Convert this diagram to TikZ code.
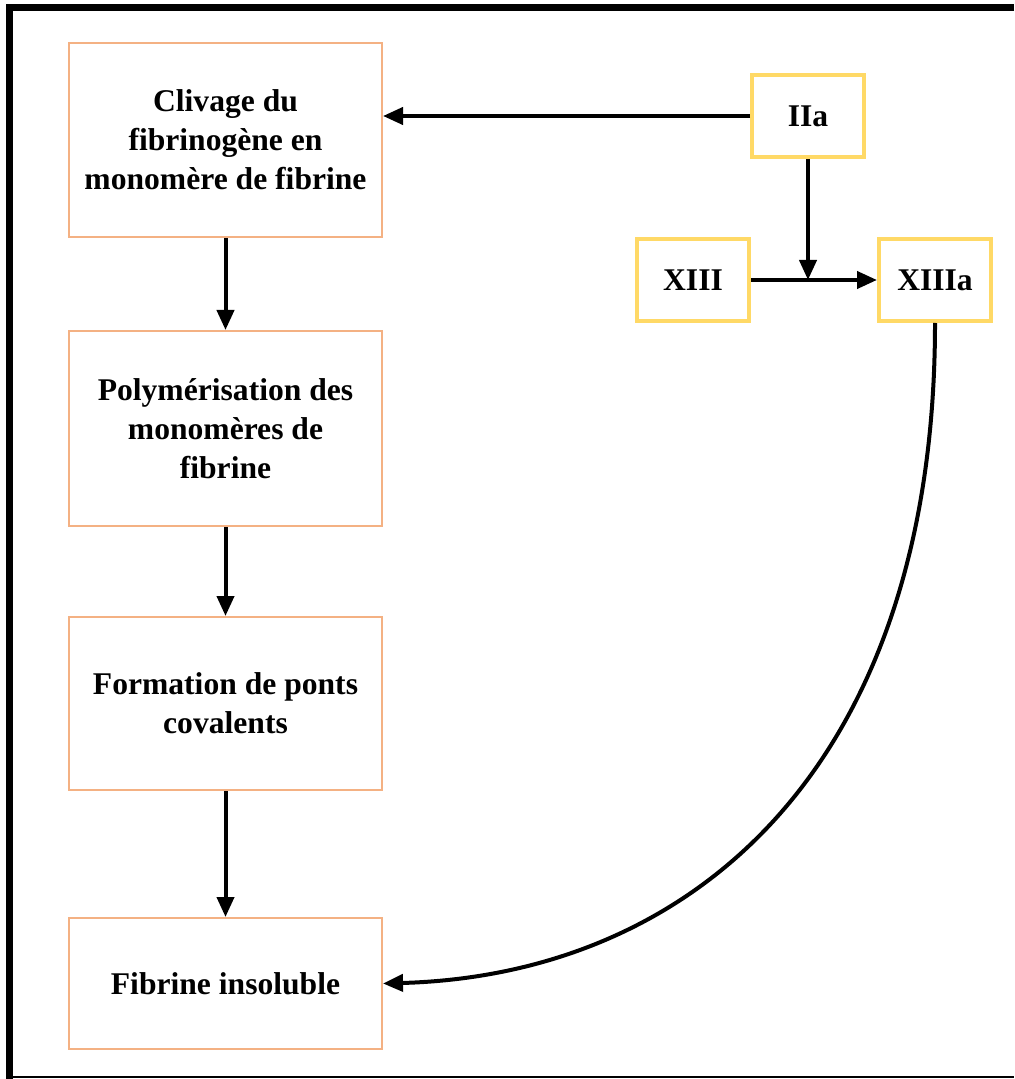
\documentclass[tikz,border=0pt]{standalone}
\usepackage{fontspec}
\setmainfont{Liberation Serif}
\usetikzlibrary{arrows.meta,positioning}
\definecolor{boxorange}{RGB}{244,177,131}
\definecolor{boxyellow}{RGB}{255,217,102}
\tikzset{
    stepbox/.style={draw=boxorange, line width=1pt, minimum width=156.5pt,
        align=center, font=\bfseries\fontsize{15.8}{19.5}\selectfont},
    factor/.style={draw=boxyellow, line width=2pt, minimum width=56pt,
        minimum height=41pt, font=\bfseries\fontsize{15.8}{19.5}\selectfont},
    flow/.style={-{Triangle[length=10pt,width=8.5pt]}, line width=2pt}
}
\begin{document}
\begin{tikzpicture}[x=0.5pt,y=-0.5pt]
    \useasboundingbox (0,0) rectangle (1014,1079);
    % frame
    \draw[line width=3.5pt] (1014,7.5) -| (9,1079);
    \draw[line width=0.8pt] (9,1077) -- (1014,1077);

    \node[stepbox, minimum height=97pt] (cliv) at (225.5,140) {Clivage du\\fibrinogène en\\monomère de fibrine};
    \node[stepbox, minimum height=97.5pt] (poly) at (225.5,428.5) {Polymérisation des\\monomères de\\fibrine};
    \node[stepbox, minimum height=86.5pt] (pont) at (225.5,703.5) {Formation de ponts\\covalents};
    \node[stepbox, minimum height=65.5pt] (fib) at (225.5,983.5) {Fibrine insoluble};

    \node[factor] (iia) at (808,116) {IIa};
    \node[factor] (xiii) at (693,280) {XIII};
    \node[factor] (xiiia) at (935,280) {XIIIa};
    \coordinate (join) at (iia.south |- xiii.east);

    \draw[flow] (cliv) -- (poly);
    \draw[flow] (poly) -- (pont);
    \draw[flow] (pont) -- (fib);
    \draw[flow] (iia.west) -- (cliv.east |- iia.west);
    \draw[flow] (xiii.east) -- (xiiia.west);
    \draw[flow] (iia.south) -- (join);
    \draw[flow] (xiiia.south) .. controls (935,770) and (690,975) .. (fib.east);
\end{tikzpicture}
\end{document}
